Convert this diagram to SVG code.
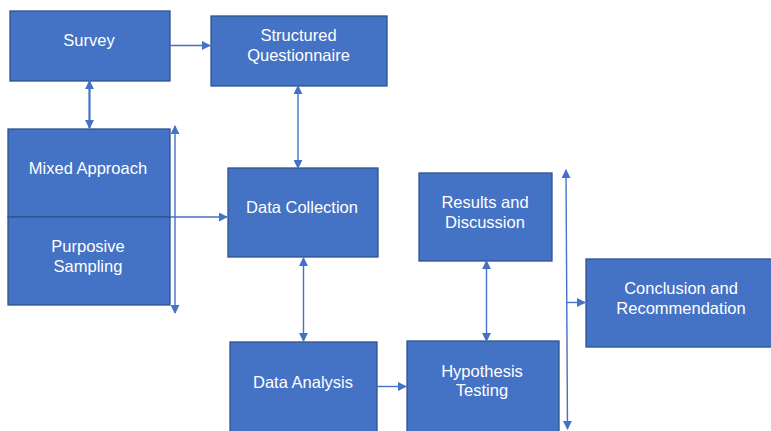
<svg xmlns="http://www.w3.org/2000/svg" width="771" height="431" viewBox="0 0 771 431">
<style>
.box{fill:#4472C4;stroke:#2F528F;stroke-width:1.3}
.t{font-family:"Liberation Sans",Arial,sans-serif;font-size:16.5px;fill:#fff;text-anchor:middle}
.c{stroke:#4472C4;stroke-width:1.4;fill:none}
</style>
<defs>
<marker id="ah" viewBox="0 0 10 10" refX="9" refY="5" markerUnits="userSpaceOnUse" markerWidth="9" markerHeight="9" orient="auto-start-reverse">
<path d="M0,0 L10,5 L0,10 z" fill="#4472C4"/>
</marker>
</defs>
<rect width="771" height="431" fill="#fff"/>
<g id="survey"><rect class="box" x="10" y="11" width="160" height="70"/><text class="t" x="89" y="46">Survey</text></g>
<g id="questionnaire"><rect class="box" x="211" y="16" width="176" height="70"/><text class="t" x="298.5" y="41">Structured</text><text class="t" x="298.5" y="61">Questionnaire</text></g>
<g id="mixed"><rect class="box" x="8" y="129" width="162" height="88"/><text class="t" x="88" y="173.5">Mixed Approach</text></g>
<g id="purposive"><rect class="box" x="8" y="217" width="162" height="88"/><text class="t" x="88" y="252">Purposive</text><text class="t" x="88" y="271.5">Sampling</text></g>
<g id="collection"><rect class="box" x="228" y="168" width="150" height="89"/><text class="t" x="302" y="212.5">Data Collection</text></g>
<g id="analysis"><rect class="box" x="230" y="342" width="147" height="95"/><text class="t" x="303" y="388">Data Analysis</text></g>
<g id="hypothesis"><rect class="box" x="407" y="341" width="152" height="95"/><text class="t" x="482" y="376.5">Hypothesis</text><text class="t" x="482" y="396">Testing</text></g>
<g id="results"><rect class="box" x="419" y="173" width="133" height="88"/><text class="t" x="485" y="208">Results and</text><text class="t" x="485" y="228">Discussion</text></g>
<g id="conclusion"><rect class="box" x="586" y="259" width="190" height="88"/><text class="t" x="681" y="294">Conclusion and</text><text class="t" x="681" y="313.5">Recommendation</text></g>
<g id="connectors">
<line class="c" x1="170" y1="45.5" x2="210" y2="45.5" marker-end="url(#ah)"/>
<line class="c" x1="89.5" y1="81" x2="89.5" y2="128" style="stroke-width:2.2" marker-start="url(#ah)" marker-end="url(#ah)"/>
<line class="c" x1="175" y1="126" x2="175" y2="313" marker-start="url(#ah)" marker-end="url(#ah)"/>
<line class="c" x1="170" y1="217" x2="227" y2="217" marker-end="url(#ah)"/>
<line class="c" x1="298" y1="86" x2="298" y2="168" marker-start="url(#ah)" marker-end="url(#ah)"/>
<line class="c" x1="303.5" y1="258" x2="303.5" y2="341" marker-start="url(#ah)" marker-end="url(#ah)"/>
<line class="c" x1="377" y1="386.5" x2="406" y2="386.5" marker-end="url(#ah)"/>
<line class="c" x1="486.5" y1="261" x2="486.5" y2="341" marker-start="url(#ah)" marker-end="url(#ah)"/>
<line class="c" x1="566" y1="170" x2="567.5" y2="429" marker-start="url(#ah)" marker-end="url(#ah)"/>
<line class="c" x1="567" y1="302.5" x2="585" y2="302.5" marker-end="url(#ah)"/>
</g>
</svg>
